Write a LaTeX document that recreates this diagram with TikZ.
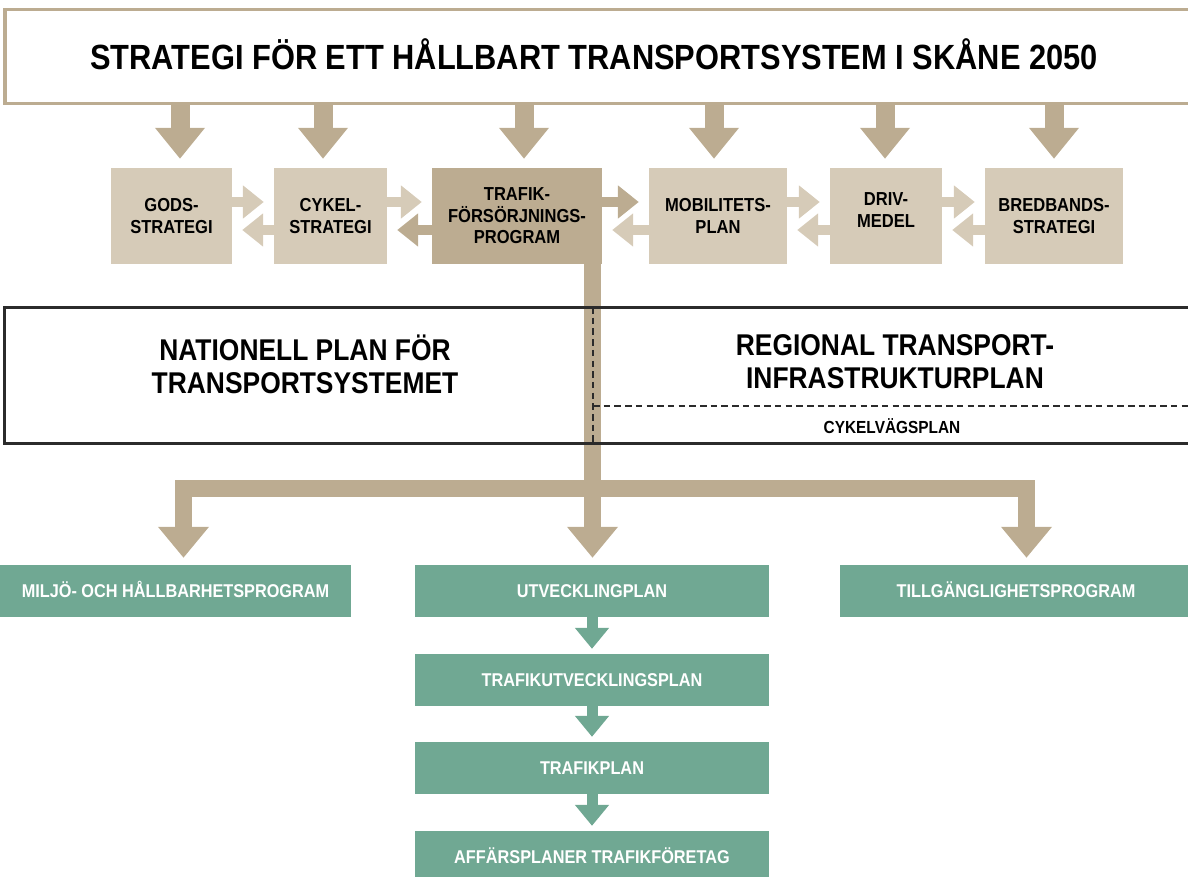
\documentclass[tikz,border=0pt]{standalone}
\usepackage{fontspec}
\setmainfont{Liberation Sans}[FakeStretch=0.88]
\usepackage{tikz}
\usetikzlibrary{arrows.meta}
\definecolor{tandark}{HTML}{BCAC91}
\definecolor{tanlight}{HTML}{D6CBB8}
\definecolor{plangreen}{HTML}{70A893}
\definecolor{framegray}{HTML}{2B2B2B}

\begin{document}
\begin{tikzpicture}[x=1pt,y=-1pt]
			\useasboundingbox (0,0) rectangle (1188,877);
			\clip (0,0) rectangle (1188,877);
			\tikzstyle{sb} = [fill=tanlight, minimum height=96pt, inner sep=0pt, align=center, font=\fontsize{18.8}{21.5}\selectfont\bfseries]
			\tikzstyle{gb} = [fill=plangreen, text=white, minimum height=52pt, inner sep=0pt, text height=13.3pt, text depth=0pt, font=\fontsize{18.5}{22}\selectfont\bfseries]
			\tikzstyle{mt} = [align=center, font=\fontsize{30}{33}\selectfont\bfseries]
			\tikzstyle{big} = [line width=19pt, tandark, -{Triangle[length=31pt,width=48pt]}, shorten >=9pt]
			\tikzstyle{side} = [line width=10.5pt, -{Triangle[length=21pt,width=32pt]}, shorten >=10pt]
			\tikzstyle{br} = [line width=17pt, tandark, -{Triangle[length=31pt,width=49pt]}, shorten >=7pt]
			\tikzstyle{down} = [line width=11pt, plangreen, -{Triangle[length=21pt,width=33pt]}, shorten >=5pt]
			\tikzstyle{dl} = [line width=2pt, framegray, dash pattern=on 6.5pt off 4.2pt]

			\node [font=\fontsize{35}{40}\selectfont\bfseries] (title) at (594,54) {STRATEGI FÖR ETT HÅLLBART TRANSPORTSYSTEM I SKÅNE 2050};
			\draw [tandark, line width=3.5pt] (1200,9.5) -| (5,103.5) -- (1200,103.5);

			\node [sb, minimum width=121pt] (gods) at (171.5,216) {GODS-\\STRATEGI};
			\node [sb, minimum width=113pt] (cykel) at (330.5,216) {CYKEL-\\STRATEGI};
			\node [sb, fill=tandark, minimum width=170pt] (trafik) at (517,216) {TRAFIK-\\FÖRSÖRJNINGS-\\PROGRAM};
			\node [sb, minimum width=138pt] (mobil) at (718,216) {MOBILITETS-\\PLAN};
			\node [sb, minimum width=112pt] (driv) at (886,216) {DRIV-\\MEDEL\\[-9.5pt]};
			\node [sb, minimum width=138pt] (bred) at (1054,216) {BREDBANDS-\\STRATEGI};

			\draw [big] (180,103.5) -- (gods.north -| 180,0);
			\draw [big] (323,103.5) -- (cykel.north -| 323,0);
			\draw [big] (524,103.5) -- (trafik.north -| 524,0);
			\draw [big] (714,103.5) -- (mobil.north -| 714,0);
			\draw [big] (885,103.5) -- (driv.north -| 885,0);
			\draw [big] (1054,103.5) -- (bred.north -| 1054,0);

			\draw [side, tanlight] ([yshift=14pt]gods.east) -- ([yshift=14pt]cykel.west);
			\draw [side, tanlight] ([yshift=-14pt]cykel.west) -- ([yshift=-14pt]gods.east);
			\draw [side, tanlight] ([yshift=14pt]cykel.east) -- ([yshift=14pt]trafik.west);
			\draw [side, tandark] ([yshift=-14pt]trafik.west) -- ([yshift=-14pt]cykel.east);
			\draw [side, tandark] ([yshift=14pt]trafik.east) -- ([yshift=14pt]mobil.west);
			\draw [side, tanlight] ([yshift=-14pt]mobil.west) -- ([yshift=-14pt]trafik.east);
			\draw [side, tanlight] ([yshift=14pt]mobil.east) -- ([yshift=14pt]driv.west);
			\draw [side, tanlight] ([yshift=-14pt]driv.west) -- ([yshift=-14pt]mobil.east);
			\draw [side, tanlight] ([yshift=14pt]driv.east) -- ([yshift=14pt]bred.west);
			\draw [side, tanlight] ([yshift=-14pt]bred.west) -- ([yshift=-14pt]driv.east);

			\node [gb, minimum width=351pt] (miljo) at (175.5,591) {MILJÖ- OCH HÅLLBARHETSPROGRAM};
			\node [gb, minimum width=354pt] (utv) at (592,591) {UTVECKLINGPLAN};
			\node [gb, minimum width=352pt] (tillg) at (1016,591) {TILLGÄNGLIGHETSPROGRAM};
			\node [gb, minimum width=354pt] (tutv) at (592,680) {TRAFIKUTVECKLINGSPLAN};
			\node [gb, minimum width=354pt] (tplan) at (592,768) {TRAFIKPLAN};
			\node [gb, minimum width=354pt] (aff) at (592,857) {AFFÄRSPLANER TRAFIKFÖRETAG};

			\draw [br] (trafik.south -| 592.5,0) -- (utv.north -| 592.5,0);
			\draw [br] (592.5,488.5) -| (miljo.north -| 183.5,0);
			\draw [br] (592.5,488.5) -| (tillg.north -| 1026.5,0);

			\draw [down] (utv) -- (tutv);
			\draw [down] (tutv) -- (tplan);
			\draw [down] (tplan) -- (aff);

			\draw [framegray, line width=3pt] (4,307) rectangle (1200,443.5);
			\draw [dl] (593,307) -- (593,443.5);
			\draw [dl] (593,405.5) -- (1200,405.5);

			\node [mt] (nat) at (305,364) {NATIONELL PLAN FÖR\\TRANSPORTSYSTEMET};
			\node [mt] (reg) at (895,361.5) {REGIONAL TRANSPORT-\\INFRASTRUKTURPLAN};
			\node [font=\fontsize{17.5}{20}\selectfont\bfseries] (cvp) at (892,426.5) {CYKELVÄGSPLAN};

		\end{tikzpicture}
\end{document}
